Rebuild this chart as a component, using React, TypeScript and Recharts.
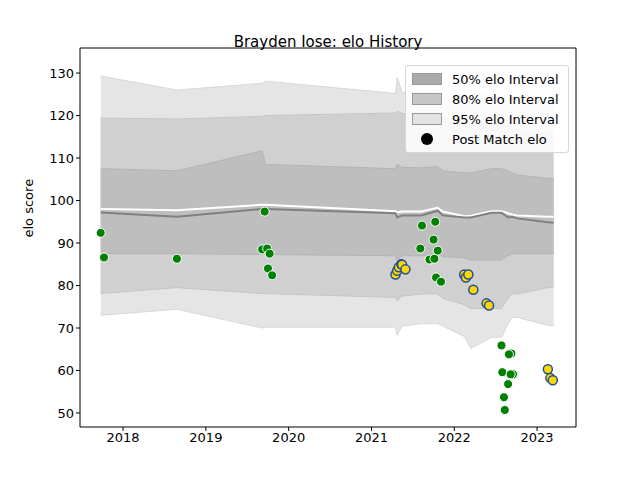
import React from "react";
import {
  ComposedChart,
  Area,
  Line,
  Scatter,
  XAxis,
  YAxis,
} from "recharts";

// band knots (decimal year)
const knotYears = [2017.73, 2018.65, 2019.68, 2019.72, 2021.29, 2021.31, 2021.37, 2021.6, 2021.8, 2021.86, 2022.12, 2022.2, 2022.45, 2022.57, 2022.65, 2022.7, 2022.76, 2023.13, 2023.2];
const hi95 = [129.3, 126, 127.6, 128.1, 125.2, 129, 125.5, 125.5, 126, 124.5, 124.5, 125, 124.5, 124.5, 125, 124, 123.5, 123, 123];
const lo95 = [73, 74.4, 70, 70.2, 70.2, 68.3, 70.5, 71, 71, 70.5, 68, 65.2, 67.8, 67.8, 71, 72.5, 72.5, 70.6, 70.6];
const hi80 = [119.4, 119.2, 119.8, 120, 120.6, 121, 120.5, 120, 120, 119.5, 118.5, 118, 118, 118, 118, 117, 116.5, 116, 116];
const lo80 = [78.1, 79.5, 78.1, 78.1, 77.2, 76.5, 77.5, 78, 78, 77, 75.5, 74.6, 74.6, 74.6, 77, 78, 78, 79.5, 79.5];
const hi50 = [107.5, 107, 111.7, 108.5, 107.5, 108.5, 107.8, 107.7, 108, 107, 106.5, 106.5, 107.5, 107.5, 107, 106.5, 106, 105.2, 105.1];
const lo50 = [87.5, 87.5, 87.3, 87.3, 87, 86, 87, 87, 87.5, 86.8, 86.5, 86, 86, 86, 87, 87.5, 87.5, 87.5, 87.5];
const meanLine = [98, 97.7, 99, 99, 97.5, 97.2, 97.4, 97.4, 98.3, 97.4, 96.3, 96.4, 97.5, 97.5, 97, 96.7, 96.5, 96.2, 96.2];
const medianLine = [97.2, 96.2, 98, 98, 97, 96, 96.5, 96.5, 97.6, 96.5, 96, 96, 97.1, 97.1, 96, 96.2, 95.8, 94.9, 94.8];

const greenYears = [2017.73, 2017.77, 2018.65, 2019.71, 2019.68, 2019.74, 2019.77, 2019.75, 2019.8, 2021.61, 2021.77, 2021.75, 2021.59, 2021.8, 2021.7, 2021.76, 2021.78, 2021.84, 2022.57, 2022.69, 2022.66, 2022.58, 2022.71, 2022.68, 2022.65, 2022.6, 2022.61];
const greenElo = [92.4, 86.6, 86.3, 97.4, 88.5, 88.7, 87.5, 84, 82.4, 94.1, 95, 90.8, 88.7, 88.2, 86.1, 86.3, 81.9, 80.9, 65.9, 64, 63.8, 59.6, 59.1, 59.1, 56.8, 53.7, 50.7];
const goldYears = [2021.29, 2021.31, 2021.33, 2021.36, 2021.37, 2021.41, 2022.12, 2022.14, 2022.17, 2022.23, 2022.39, 2022.42, 2023.13, 2023.16, 2023.19];
const goldElo = [82.6, 83.5, 84.3, 85, 84.9, 83.8, 82.6, 81.9, 82.6, 79, 75.8, 75.3, 60.3, 58.2, 57.7];

const xTicks = [2018, 2019, 2020, 2021, 2022, 2023];
const yTicks = [50, 60, 70, 80, 90, 100, 110, 120, 130];

const bandData = knotYears.map((x, i) => ({
  x,
  b95: [lo95[i], hi95[i]],
  b80: [lo80[i], hi80[i]],
  b50: [lo50[i], hi50[i]],
  mean: meanLine[i],
  median: medianLine[i],
}));
const greenPts = greenYears.map((x, i) => ({ x, y: greenElo[i] }));
const goldPts = goldYears.map((x, i) => ({ x, y: goldElo[i] }));

const font = "DejaVu Sans";
const tick = { fill: "#000", fontSize: 13, fontFamily: font };

const legendItems = [
  { label: "50% elo Interval", color: "#aaaaaa", kind: "box" },
  { label: "80% elo Interval", color: "#c6c6c6", kind: "box" },
  { label: "95% elo Interval", color: "#e2e2e2", kind: "box" },
  { label: "Post Match elo", color: "#000", kind: "dot" },
];

const LegendBox = () => (
  <div
    style={{
      position: "absolute",
      top: 65,
      left: 405,
      width: 150,
      background: "rgba(255,255,255,0.85)",
      border: "1px solid #d6d6d6",
      borderRadius: 3,
      padding: "3px 6px",
      fontFamily: font,
      fontSize: 13,
    }}
  >
    {legendItems.map((it) => (
      <div key={it.label} style={{ display: "flex", alignItems: "center", height: 20 }}>
        <div style={{ width: 30, display: "flex", justifyContent: "center", marginRight: 10 }}>
          {it.kind === "box" ? (
            <div style={{ width: 28, height: 10, background: it.color, border: "1px solid #999" }} />
          ) : (
            <div style={{ width: 12, height: 12, borderRadius: 6, background: "#000" }} />
          )}
        </div>
        <span>{it.label}</span>
      </div>
    ))}
  </div>
);

export default function App() {
  return (
    <div style={{ position: "absolute", left: 0, top: 0, width: 640, height: 480, background: "#fff" }}>
      <div
        style={{
          position: "absolute",
          top: 33,
          left: 80,
          width: 496,
          textAlign: "center",
          fontFamily: font,
          fontSize: 15,
        }}
      >
        Brayden Iose: elo History
      </div>
      <ComposedChart
        width={640}
        height={480}
        data={bandData}
        margin={{ top: 47, right: 63, bottom: 23, left: 20 }}
      >
        <XAxis
          dataKey="x"
          type="number"
          domain={[2017.48, 2023.47]}
          ticks={xTicks}
          tick={tick}
          stroke="#000"
          tickSize={4}
          allowDataOverflow
        />
        <XAxis xAxisId="top" orientation="top" type="number" domain={[0, 1]} tick={false} tickLine={false} stroke="#000" height={1} />
        <YAxis
          type="number"
          domain={[46.7, 135.9]}
          ticks={yTicks}
          tick={tick}
          stroke="#000"
          tickSize={4}
          width={60}
          allowDataOverflow
          label={{ value: "elo score", angle: -90, position: "insideLeft", offset: 8, style: { fontFamily: font, fontSize: 13, fill: "#000" } }}
        />
        <YAxis yAxisId="right" orientation="right" domain={[0, 1]} tick={false} tickLine={false} stroke="#000" width={1} />
        <Area dataKey="b95" type="linear" fill="#e5e5e5" fillOpacity={1} stroke="#d8d8d8" isAnimationActive={false} />
        <Area dataKey="b80" type="linear" fill="#d0d0d0" fillOpacity={1} stroke="#c6c6c6" isAnimationActive={false} />
        <Area dataKey="b50" type="linear" fill="#bebebe" fillOpacity={1} stroke="#b4b4b4" isAnimationActive={false} />
        <Line dataKey="mean" type="linear" stroke="#fff" strokeWidth={2} dot={false} isAnimationActive={false} />
        <Line dataKey="median" type="linear" stroke="#808080" strokeWidth={2} dot={false} isAnimationActive={false} />
        <Scatter data={greenPts} dataKey="y" fill="#008000" stroke="#fff" strokeWidth={1} shape="circle" isAnimationActive={false} />
        <Scatter data={goldPts} dataKey="y" fill="#ffd700" stroke="#1f4e9a" strokeWidth={1.5} shape="circle" isAnimationActive={false} />
      </ComposedChart>
      <LegendBox />
    </div>
  );
}
